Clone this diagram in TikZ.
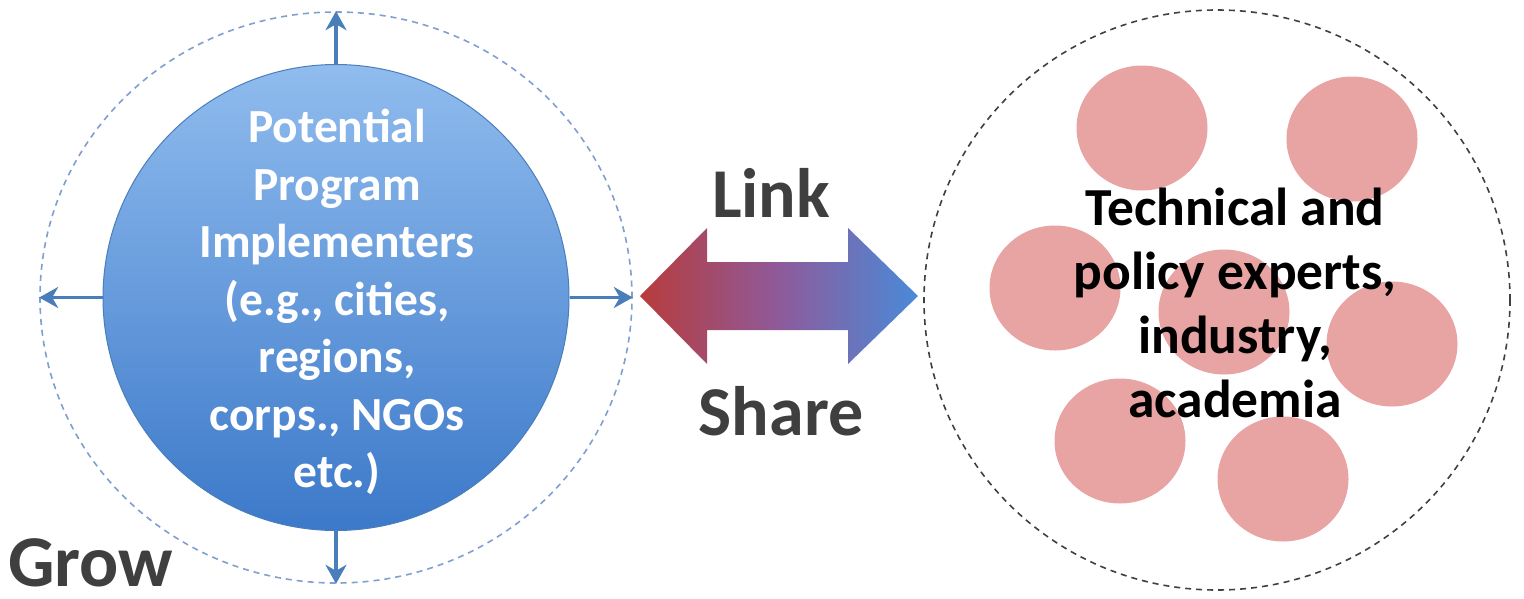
\documentclass[tikz,border=0pt]{standalone}
\usepackage{fontspec}
\setmainfont{Carlito}
\usetikzlibrary{shapes.geometric,arrows.meta}
\definecolor{growblue}{HTML}{4A7EBB}
\definecolor{dashblue}{HTML}{7F9FCF}
\definecolor{pinkc}{HTML}{E8A3A3}
\definecolor{darktxt}{HTML}{3F3F3F}
\definecolor{arrred}{HTML}{B83C3C}
\definecolor{arrblue}{HTML}{4A8AD8}
\definecolor{arrmid}{HTML}{8E5A9A}
\definecolor{balltop}{HTML}{90BCEE}
\definecolor{ballbot}{HTML}{3C79C9}
\tikzset{
  outerring/.style={ellipse, draw, dashed, line width=1.6pt, dash pattern=on 6pt off 5pt, inner sep=0},
  growarrow/.style={draw=growblue, line width=3.5pt, -{Stealth[length=19pt,width=21pt,inset=6pt]}},
  pinkball/.style={ellipse, fill=pinkc, inner sep=0, minimum width=131pt, minimum height=125pt},
  bigword/.style={font=\bfseries\fontsize{70}{72}\selectfont, text=darktxt, inner sep=0}
}
\begin{document}
\begin{tikzpicture}[x=1pt,y=-1pt]
\useasboundingbox (0,0) rectangle (1524,598);
% left group
\node[outerring, draw=dashblue, minimum width=592pt, minimum height=571pt] (lout) at (336,297.5) {};
\node[circle, draw=growblue, line width=1pt, top color=balltop, bottom color=ballbot, minimum size=466pt, inner sep=0] (lin) at (336,297.5) {};
\node[text=white, align=center, font=\bfseries\fontsize{47.5}{57.5}\selectfont, inner sep=0] (ltext) at (337,302)
  {Potential\\Program\\Implementers\\(e.g., cities,\\regions,\\corps., NGOs\\etc.)};
\draw[growarrow] (lin.north) -- (lout.north);
\draw[growarrow] (lin.south) -- (lout.south);
\draw[growarrow] (lin.west) -- (lout.west);
\draw[growarrow] (lin.east) -- (lout.east);
\node[bigword, anchor=base west, font=\bfseries\fontsize{73}{75}\selectfont] (grow) at (8,586) {Grow};
% right group
\node[outerring, draw=black!75, minimum width=586pt, minimum height=580pt] (rout) at (1217,300) {};
\node[pinkball] (p1) at (1142,128) {};
\node[pinkball] (p2) at (1352,139) {};
\node[pinkball] (p3) at (1055,288) {};
\node[pinkball] (p4) at (1224,312) {};
\node[pinkball] (p5) at (1392,344) {};
\node[pinkball] (p6) at (1120,441) {};
\node[pinkball] (p7) at (1283,479) {};
\node[text=black, align=center, font=\bfseries\fontsize{53.5}{64}\selectfont, inner sep=0] (rtext) at (1235,303)
  {Technical and\\policy experts,\\industry,\\academia};
% link arrow
\coordinate (ltip) at (640,296);
\coordinate (rtip) at (918,296);
\shade[left color=arrred, right color=arrblue, middle color=arrmid]
  (ltip) -- (707,228) -- (707,262) -- (848,262) -- (848,228) -- (rtip)
  -- (848,364) -- (848,330) -- (707,330) -- (707,364) -- cycle;
\node[bigword, anchor=base] (link) at (771,217) {Link};
\node[bigword, anchor=base] (share) at (781,435) {Share};
\end{tikzpicture}
\end{document}
